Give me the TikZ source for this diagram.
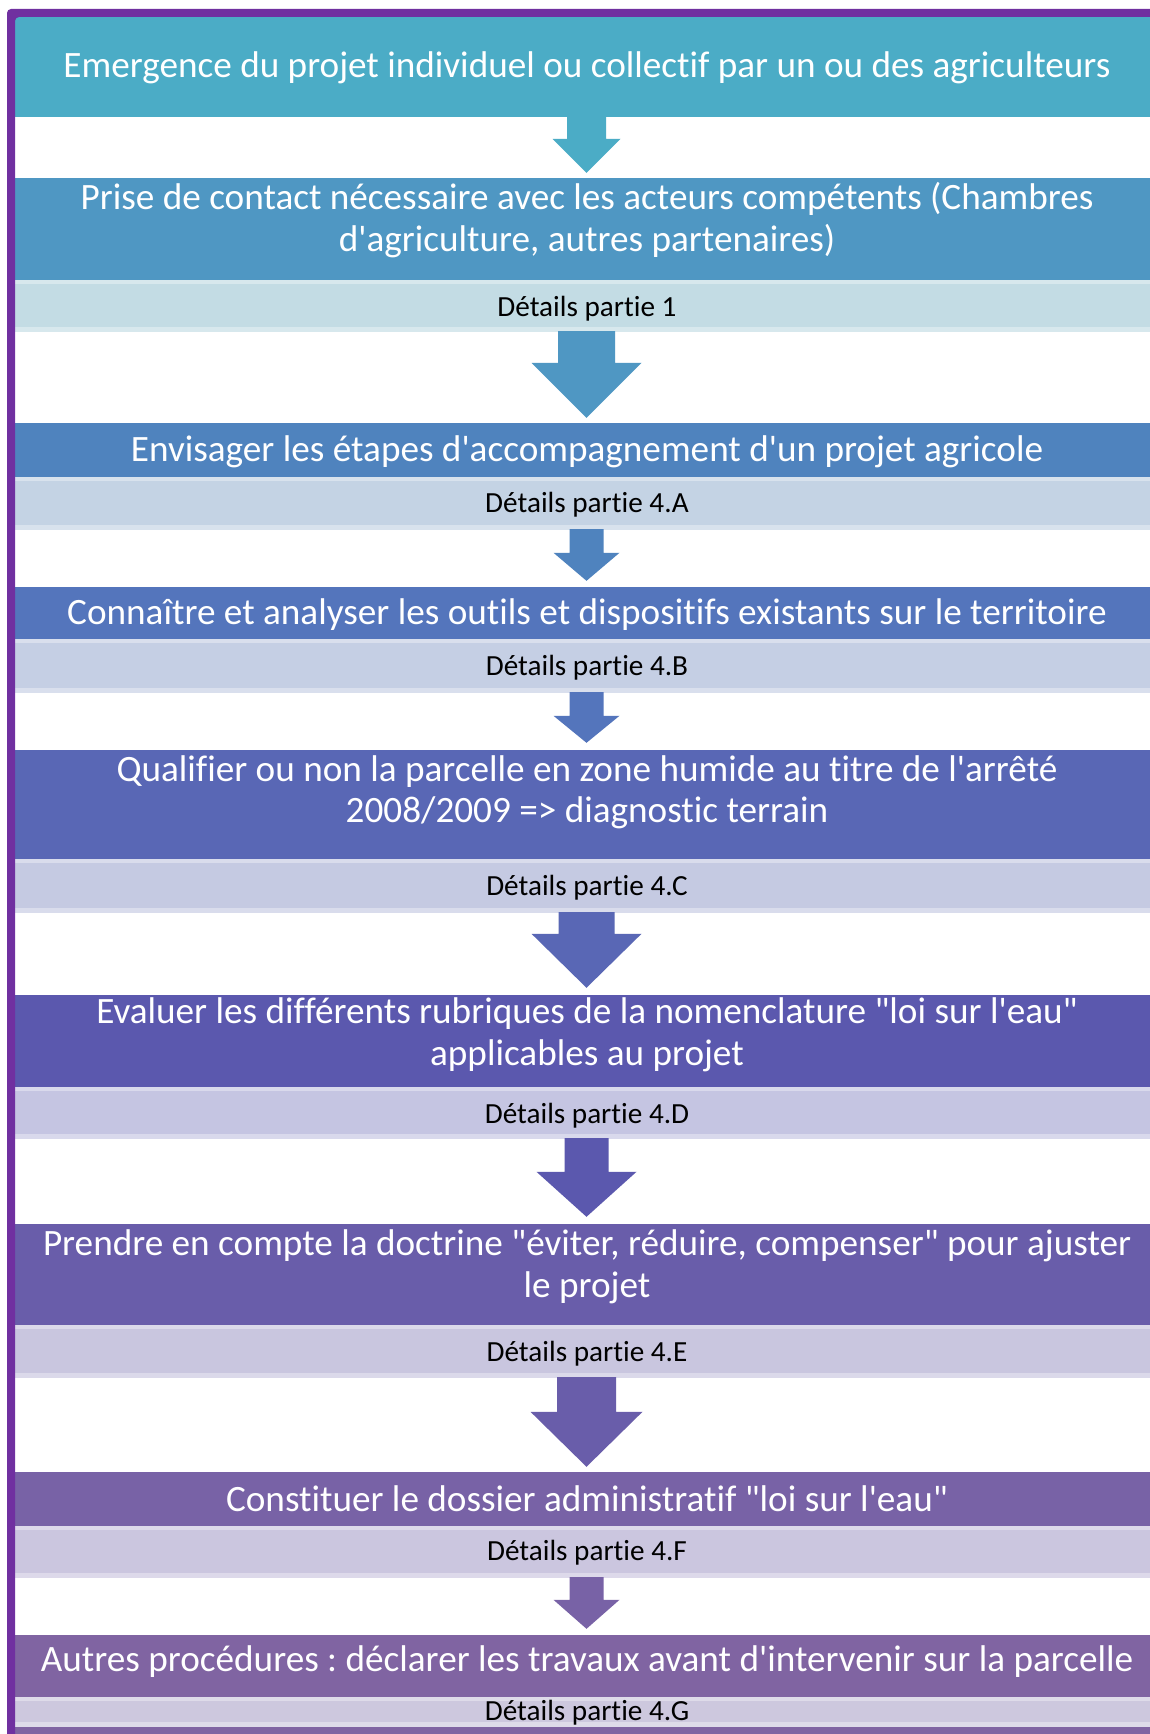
\documentclass[tikz,border=0pt]{standalone}
\usepackage{fontspec}
\setmainfont{Carlito}[Ligatures={TeXOff,NoCommon}]
\usetikzlibrary{calc}
\frenchspacing
\definecolor{frame}{HTML}{7030A0}
\definecolor{c1}{HTML}{4BACC6}
\definecolor{c2}{HTML}{4F97C3}
\definecolor{c3}{HTML}{4F83BE}
\definecolor{c4}{HTML}{5475BC}
\definecolor{c5}{HTML}{5967B5}
\definecolor{c6}{HTML}{5B58AE}
\definecolor{c7}{HTML}{695DAA}
\definecolor{c8}{HTML}{7862A6}
\definecolor{c9}{HTML}{8064A2}
\definecolor{l1}{HTML}{C3DCE4}
\definecolor{l2}{HTML}{C4D3E4}
\definecolor{l3}{HTML}{C5CFE4}
\definecolor{l4}{HTML}{C5CAE2}
\definecolor{l5}{HTML}{C5C5E2}
\definecolor{l6}{HTML}{C9C6DF}
\definecolor{l7}{HTML}{CBC6DF}
\definecolor{l8}{HTML}{CDC8DE}
\tikzset{
  band/.style={rectangle, inner sep=0pt, minimum width=1143pt, draw=none},
  lightband/.style={band, path picture={
      \fill[white,opacity=.35] (path picture bounding box.north west) rectangle ([yshift=-4pt]path picture bounding box.north east);
      \fill[white,opacity=.35] ([yshift=5pt]path picture bounding box.south west) rectangle (path picture bounding box.south east);}},
  maintext/.style={text=white, align=center, inner sep=0pt, font=\frenchspacing\fontsize{37.2}{41.5}\selectfont},
  dettext/.style={text=black, inner sep=0pt, font=\fontsize{29.2}{34}\selectfont}
}
% color, from node, to node, half shaft, half head, head length, gap
\newcommand\blkarrow[7]{%
  \fill[#1] ($(#2.south)+(-#4,-1)$) -- ($(#2.south)+(#4,-1)$)
    -- ($(#3.north)+(#4,{-#7-#6})$) -- ($(#3.north)+(#5,{-#7-#6})$)
    -- ($(#3.north)+(0,-#7)$)
    -- ($(#3.north)+(-#5,{-#7-#6})$) -- ($(#3.north)+(-#4,{-#7-#6})$) -- cycle;}
\begin{document}
\frenchspacing
\begin{tikzpicture}[x=1pt,y=-1pt]
\useasboundingbox (0,0) rectangle (1150,1734);
\fill[white] (0,0) rectangle (1150,1734);

% boxes
\node[band, fill=c1, minimum height=100pt] (b1) at (586.5,67) {};
\node[band, fill=c2, minimum height=102pt] (b2) at (586.5,229) {};
\node[lightband, fill=l1, minimum height=52pt] (d1) at (586.5,306) {};
\node[band, fill=c3, minimum height=54pt] (b3) at (586.5,450) {};
\node[lightband, fill=l2, minimum height=53pt] (d2) at (586.5,503.5) {};
\node[band, fill=c4, minimum height=52pt] (b4) at (586.5,613) {};
\node[lightband, fill=l3, minimum height=54pt] (d3) at (586.5,666) {};
\node[band, fill=c5, minimum height=109pt] (b5) at (586.5,804.5) {};
\node[lightband, fill=l4, minimum height=54pt] (d4) at (586.5,886) {};
\node[band, fill=c6, minimum height=92pt] (b6) at (586.5,1041) {};
\node[lightband, fill=l5, minimum height=52pt] (d5) at (586.5,1113) {};
\node[band, fill=c7, minimum height=101pt] (b7) at (586.5,1274.5) {};
\node[lightband, fill=l6, minimum height=53pt] (d6) at (586.5,1351.5) {};
\node[band, fill=c8, minimum height=54pt] (b8) at (586.5,1499) {};
\node[lightband, fill=l7, minimum height=52pt] (d7) at (586.5,1552) {};
\node[band, fill=c9, minimum height=62pt] (b9) at (586.5,1666) {};
\node[lightband, fill=l8, minimum height=30pt] (d8) at (586.5,1712) {};
\node[band, fill=c9, minimum height=10pt, anchor=north] (b10) at (586.5,1727) {};

% arrows
\blkarrow{c1}{b1}{b2}{19.5}{34}{34}{5}
\blkarrow{c2}{d1}{b3}{28.5}{55}{55}{5}
\blkarrow{c3}{d2}{b4}{17}{33}{28}{6}
\blkarrow{c4}{d3}{b5}{17}{33}{27}{7}
\blkarrow{c5}{d4}{b6}{28}{55}{54}{7}
\blkarrow{c6}{d5}{b7}{22}{50}{45}{7}
\blkarrow{c7}{d6}{b8}{29.5}{56}{55}{5}
\blkarrow{c8}{d7}{b9}{17}{33}{29}{6}

% frame
\fill[frame, rounded corners=4pt] (7,1745) -- (7,9) -- (1165,9) -- (1165,17) -- (15,17) -- (15,1745) -- cycle;

% texts
\node[maintext] (t1) at (587,67.5) {Emergence du projet individuel ou collectif par un ou des agriculteurs};
\node[maintext] (t2) at (587,220) {Prise de contact nécessaire avec les acteurs compétents (Chambres\\d'agriculture, autres partenaires)};
\node[dettext] (e1) at (587,309) {Détails partie 1};
\node[maintext] (t3) at (587,451.5) {Envisager les étapes d'accompagnement d'un projet agricole};
\node[dettext] (e2) at (587,504.5) {Détails partie 4.A};
\node[maintext] (t4) at (587,614.5) {Connaître et analyser les outils et dispositifs existants sur le territoire};
\node[dettext] (e3) at (587,667.5) {Détails partie 4.B};
\node[maintext] (t5) at (587,792.5) {Qualifier ou non la parcelle en zone humide au titre de l'arrêté\\2008/2009 => diagnostic terrain};
\node[dettext] (e4) at (587,887.5) {Détails partie 4.C};
\node[maintext] (t6) at (587,1035) {Evaluer les différents rubriques de la nomenclature "loi sur l'eau"\\applicables au projet};
\node[dettext] (e5) at (587,1115.5) {Détails partie 4.D};
\node[maintext] (t7) at (587,1267) {Prendre en compte la doctrine "éviter, réduire, compenser" pour ajuster\\le projet};
\node[dettext] (e6) at (587,1354) {Détails partie 4.E};
\node[maintext] (t8) at (587,1499) {Constituer le dossier administratif "loi sur l'eau"};
\node[dettext] (e7) at (587,1553) {Détails partie 4.F};
\node[maintext] (t9) at (587,1662) {Autres procédures : déclarer les travaux avant d'intervenir sur la parcelle};
\node[dettext] (e8) at (587,1713) {Détails partie 4.G};
\end{tikzpicture}
\end{document}
